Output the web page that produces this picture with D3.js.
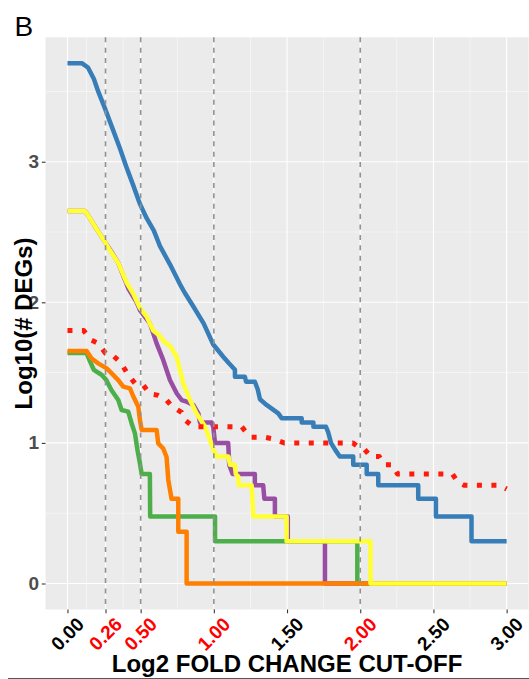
<!DOCTYPE html>
<html>
<head>
<meta charset="utf-8">
<script src="https://cdn.jsdelivr.net/npm/d3@7"></script>
<style>
  html, body { margin: 0; padding: 0; background: #ffffff; }
  svg { display: block; }
</style>
</head>
<body>
<script>
// ---------------- data ----------------
const xTicks = [0, 0.26, 0.5, 1, 1.5, 2, 2.5, 3];
const xTickLabels = ["0.00", "0.26", "0.50", "1.00", "1.50", "2.00", "2.50", "3.00"];
const xMinor = [0.13, 0.38, 0.75, 1.25, 1.75, 2.25, 2.75];
const yTicks = [0, 1, 2, 3];
const yTickLabels = ["0", "1", "2", "3"];
const yMinor = [0.5, 1.5, 2.5, 3.5];
const cutoffs = [0.26, 0.5, 1, 2];

const panelLabel = "B";
const xTitle = "Log2 FOLD CHANGE CUT-OFF";
const yTitle = "Log10(# DEGs)";

// each series: [log2 FC cut-off, log10(# DEGs)]
const seriesBlue = [[0,3.70],[0.10,3.70],[0.14,3.67],[0.18,3.59],[0.21,3.50],[0.256,3.38],[0.31,3.23],[0.36,3.09],[0.40,2.97],[0.45,2.83],[0.495,2.70],[0.54,2.60],[0.59,2.51],[0.632,2.40],[0.70,2.27],[0.768,2.13],[0.80,2.07],[0.86,1.97],[0.93,1.85],[0.996,1.70],[1.064,1.613],[1.10,1.57],[1.144,1.52],[1.144,1.47],[1.212,1.47],[1.22,1.435],[1.28,1.435],[1.30,1.38],[1.315,1.31],[1.36,1.27],[1.40,1.24],[1.44,1.21],[1.463,1.176],[1.60,1.176],[1.60,1.146],[1.68,1.146],[1.68,1.114],[1.766,1.114],[1.78,1.079],[1.79,1.041],[1.80,1.0],[1.827,0.954],[1.86,0.903],[1.952,0.903],[1.952,0.845],[2.044,0.845],[2.044,0.778],[2.123,0.778],[2.123,0.699],[2.396,0.699],[2.396,0.602],[2.517,0.602],[2.517,0.477],[2.76,0.477],[2.76,0.301],[3.0,0.301]];

const seriesPurple = [[0,2.65],[0.12,2.65],[0.14,2.62],[0.20,2.52],[0.256,2.43],[0.30,2.36],[0.347,2.28],[0.415,2.10],[0.473,2.00],[0.495,1.945],[0.563,1.85],[0.609,1.708],[0.654,1.59],[0.70,1.447],[0.746,1.353],[0.78,1.305],[0.814,1.293],[0.86,1.27],[0.894,1.21],[0.905,1.146],[0.985,1.146],[0.996,1.114],[1.008,1.0],[1.098,1.0],[1.105,0.845],[1.128,0.778],[1.28,0.778],[1.28,0.699],[1.337,0.699],[1.345,0.602],[1.417,0.602],[1.417,0.477],[1.505,0.477],[1.505,0.301],[1.759,0.301],[1.759,0],[3.0,0]];

const seriesGreen = [[0,1.64],[0.13,1.64],[0.154,1.58],[0.18,1.52],[0.235,1.483],[0.265,1.447],[0.30,1.376],[0.347,1.305],[0.37,1.234],[0.415,1.222],[0.438,1.14],[0.461,1.068],[0.478,0.95],[0.495,0.855],[0.507,0.778],[0.563,0.778],[0.565,0.477],[1.008,0.477],[1.008,0.301],[1.98,0.301],[1.98,0],[3.0,0]];

const seriesOrange = [[0,1.653],[0.131,1.653],[0.165,1.60],[0.21,1.566],[0.268,1.53],[0.302,1.495],[0.347,1.447],[0.381,1.40],[0.427,1.388],[0.45,1.33],[0.484,1.257],[0.495,1.163],[0.507,1.092],[0.609,1.092],[0.62,0.997],[0.654,0.96],[0.677,0.90],[0.689,0.736],[0.711,0.602],[0.757,0.602],[0.757,0.368],[0.814,0.368],[0.814,0],[3.0,0]];

const seriesYellow = [[0,2.65],[0.12,2.65],[0.14,2.62],[0.20,2.52],[0.256,2.43],[0.29,2.37],[0.347,2.28],[0.404,2.14],[0.45,2.06],[0.495,1.96],[0.54,1.90],[0.586,1.80],[0.632,1.76],[0.66,1.72],[0.70,1.69],[0.746,1.613],[0.768,1.52],[0.791,1.424],[0.837,1.305],[0.882,1.21],[0.94,1.115],[0.973,1.02],[0.996,0.954],[1.019,0.903],[1.10,0.903],[1.11,0.845],[1.144,0.845],[1.15,0.778],[1.167,0.76],[1.17,0.699],[1.258,0.699],[1.27,0.477],[1.497,0.477],[1.497,0.301],[2.07,0.301],[2.07,0],[3.0,0]];

const seriesRed = [[0,1.80],[0.11,1.80],[0.165,1.73],[0.21,1.708],[0.26,1.637],[0.30,1.632],[0.365,1.57],[0.411,1.49],[0.461,1.424],[0.514,1.417],[0.563,1.348],[0.614,1.34],[0.677,1.305],[0.716,1.257],[0.78,1.217],[0.803,1.163],[0.86,1.115],[1.19,1.115],[1.25,1.041],[1.34,1.041],[1.40,1.03],[1.48,1.0],[1.95,1.0],[1.99,0.968],[2.03,0.954],[2.07,0.903],[2.13,0.903],[2.164,0.845],[2.22,0.845],[2.255,0.778],[2.63,0.778],[2.665,0.724],[2.71,0.699],[2.95,0.699],[3.0,0.672]];

// ---------------- layout & style ----------------
const W = 529, H = 679;
const panel = { left: 45.5, right: 528.6, top: 37.3, bottom: 609.5 };
const FONT = "'Liberation Sans', Arial, Helvetica, sans-serif";

const layers = [
  { data: seriesBlue,   color: "#377EB8", dash: null },
  { data: seriesPurple, color: "#984EA3", dash: null },
  { data: seriesGreen,  color: "#4DAF4A", dash: null },
  { data: seriesOrange, color: "#FF7F00", dash: null },
  { data: seriesYellow, color: "#FFFF33", dash: null },
  { data: seriesRed,    color: "#FF1A0A", dash: "5,9.5" }
];

const svg = d3.select("body").append("svg")
  .attr("width", W).attr("height", H)
  .attr("viewBox", `0 0 ${W} ${H}`);

svg.append("rect").attr("width", W).attr("height", H).attr("fill", "#ffffff");

const x = d3.scaleLinear().domain([-0.15, 3.15]).range([panel.left, panel.right]);
const y = d3.scaleLinear().domain([-0.185, 3.885]).range([panel.bottom, panel.top]);

// panel background
svg.append("rect")
  .attr("x", panel.left).attr("y", panel.top)
  .attr("width", panel.right - panel.left).attr("height", panel.bottom - panel.top)
  .attr("fill", "#EBEBEB");

const grid = svg.append("g");
// minor grid
grid.selectAll("line.xmin").data(xMinor).join("line")
  .attr("x1", d => x(d)).attr("x2", d => x(d))
  .attr("y1", panel.top).attr("y2", panel.bottom)
  .attr("stroke", "#ffffff").attr("stroke-width", 0.55).attr("opacity", 0.9);
grid.selectAll("line.ymin").data(yMinor).join("line")
  .attr("x1", panel.left).attr("x2", panel.right)
  .attr("y1", d => y(d)).attr("y2", d => y(d))
  .attr("stroke", "#ffffff").attr("stroke-width", 0.55).attr("opacity", 0.9);
// major grid
grid.selectAll("line.xmaj").data(xTicks).join("line")
  .attr("x1", d => x(d)).attr("x2", d => x(d))
  .attr("y1", panel.top).attr("y2", panel.bottom)
  .attr("stroke", "#ffffff").attr("stroke-width", 1.1);
grid.selectAll("line.ymaj").data(yTicks).join("line")
  .attr("x1", panel.left).attr("x2", panel.right)
  .attr("y1", d => y(d)).attr("y2", d => y(d))
  .attr("stroke", "#ffffff").attr("stroke-width", 1.1);

// series
const line = d3.line().x(d => x(d[0])).y(d => y(d[1]));
const gLines = svg.append("g");
layers.forEach(L => {
  const p = gLines.append("path")
    .attr("d", line(L.data))
    .attr("fill", "none")
    .attr("stroke", L.color)
    .attr("stroke-width", L.dash ? 5 : 4.5)
    .attr("stroke-linejoin", "round")
    .attr("stroke-linecap", "butt");
  if (L.dash) p.attr("stroke-dasharray", L.dash);
});

// cut-off dashed lines
svg.append("g").selectAll("line").data(cutoffs).join("line")
  .attr("x1", d => x(d)).attr("x2", d => x(d))
  .attr("y1", panel.top).attr("y2", panel.bottom)
  .attr("stroke", "#929292").attr("stroke-width", 1.6)
  .attr("stroke-dasharray", "5,5.4");

// axes (ticks) via d3 axis
const xAxis = d3.axisBottom(x).tickValues(xTicks).tickSize(3.7).tickFormat("");
const gx = svg.append("g").attr("transform", `translate(0,${panel.bottom})`).call(xAxis);
gx.select(".domain").remove();
gx.selectAll("line").attr("stroke", "#333333").attr("stroke-width", 1.07);

const yAxis = d3.axisLeft(y).tickValues(yTicks).tickSize(3.7).tickFormat("");
const gy = svg.append("g").attr("transform", `translate(${panel.left},0)`).call(yAxis);
gy.select(".domain").remove();
gy.selectAll("line").attr("stroke", "#333333").attr("stroke-width", 1.07);

// y tick labels
svg.append("g").selectAll("text").data(yTicks).join("text")
  .attr("x", panel.left - 6.5)
  .attr("y", d => y(d))
  .attr("text-anchor", "end")
  .attr("dominant-baseline", "central")
  .attr("font-family", FONT).attr("font-weight", "bold").attr("font-size", 19)
  .attr("fill", "#4D4D4D")
  .text((d, i) => yTickLabels[i]);

// x tick labels (rotated 45)
svg.append("g").selectAll("text").data(xTicks).join("text")
  .attr("transform", d => `translate(${x(d)},634) rotate(-45)`)
  .attr("text-anchor", "middle")
  .attr("dominant-baseline", "central")
  .attr("font-family", FONT).attr("font-weight", "bold").attr("font-size", 19)
  .attr("fill", d => cutoffs.includes(d) ? "#FF0000" : "#000000")
  .text((d, i) => xTickLabels[i]);

// axis titles
svg.append("text")
  .attr("x", (panel.left + panel.right) / 2).attr("y", 672)
  .attr("text-anchor", "middle")
  .attr("font-family", FONT).attr("font-weight", "bold").attr("font-size", 24)
  .attr("fill", "#000000")
  .text(xTitle);

svg.append("text")
  .attr("transform", `translate(32,${(panel.top + panel.bottom) / 2}) rotate(-90)`)
  .attr("text-anchor", "middle")
  .attr("font-family", FONT).attr("font-weight", "bold").attr("font-size", 24)
  .attr("fill", "#000000")
  .text(yTitle);

// panel tag
svg.append("text")
  .attr("x", 14.5).attr("y", 35.5)
  .attr("font-family", FONT).attr("font-size", 28)
  .attr("fill", "#000000")
  .text(panelLabel);

// bottom rule
svg.append("line")
  .attr("x1", 8).attr("x2", W).attr("y1", 678.5).attr("y2", 678.5)
  .attr("stroke", "#555555").attr("stroke-width", 1.2);
</script>
</body>
</html>
